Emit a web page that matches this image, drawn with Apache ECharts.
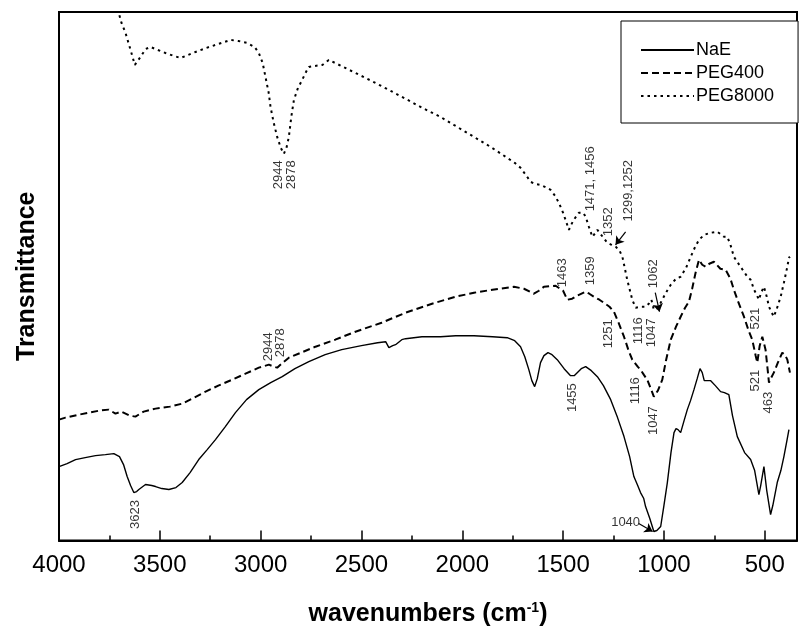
<!DOCTYPE html>
<html>
<head>
<meta charset="utf-8">
<script src="https://cdn.jsdelivr.net/npm/echarts@6/dist/echarts.min.js"></script>
<style>html,body{margin:0;padding:0;background:#fff}#c{width:804px;height:632px}</style>
</head>
<body>
<div id="c"></div>
<script>
var FONT = '"Liberation Sans", Arial, sans-serif';

var seriesNames = ['NaE', 'PEG400', 'PEG8000'];
var majorTicks = [500, 1000, 1500, 2000, 2500, 3000, 3500, 4000];
var minorTicks = [750, 1250, 1750, 2250, 2750, 3250, 3750];

var naeWn = [4000,3960,3918,3870,3819,3770,3728,3700,3680,3662,3645,3629,3615,3604,3571,3540,3521,3490,3455,3420,3389,3350,3307,3265,3224,3175,3125,3070,3009,2950,2893,2830,2761,2680,2598,2500,2420,2380,2364,2345,2331,2300,2281,2200,2108,2033,1942,1850,1777,1740,1711,1690,1670,1655,1641,1628,1612,1595,1575,1555,1529,1495,1463,1445,1430,1410,1388,1360,1330,1300,1264,1230,1198,1170,1149,1130,1116,1100,1091,1070,1050,1035,1016,1000,983,965,950,940,930,917,900,884,868,851,835,821,810,800,793,780,768,745,719,700,678,660,636,600,570,550,529,520,504,490,471,460,438,420,405,390,380];
var naeT = [74,77,81,83,85,86,87,84,76,64,55,48,49,51,56,55,54,52,51,53,58,68,81,91,101,114,128,141,151,158,164,172,179,186,191,195,198,199,193,195,196,201,202,204,204,205,205,204,203,200,194,184,171,160,154,162,178,185,188,186,181,172,165,165,168,172,174,170,164,155,141,123,104,84,64,55,48,42,34,22,9,10,14,35,58,88,108,112,111,108,120,131,140,151,162,172,168,160,158,160,160,155,149,148,146,125,104,88,81,70,46,55,74,50,26,35,58,70,84,100,111];

var peg400Wn = [4000,3968,3900,3852,3800,3753,3720,3690,3650,3621,3580,3521,3450,3389,3330,3273,3210,3141,3075,3009,2959,2935,2918,2890,2860,2800,2728,2630,2530,2400,2281,2150,2033,1942,1850,1744,1694,1645,1620,1595,1537,1500,1479,1455,1430,1388,1370,1347,1320,1298,1270,1248,1225,1198,1175,1157,1130,1116,1100,1083,1065,1050,1030,1008,990,966,940,917,895,876,860,843,826,810,793,775,752,720,694,670,653,630,603,580,562,545,537,525,512,496,485,479,470,455,435,413,400,388,375];
var peg400T = [121,123,126,128,130,131,127,129,125,124,129,132,134,137,143,149,155,161,167,173,176,174,173,178,183,188,194,201,209,218,228,237,244,248,251,254,252,247,250,254,255,250,241,242,245,249,247,244,241,238,234,229,218,204,190,181,174,171,166,161,152,144,150,161,180,201,214,224,233,239,252,268,281,276,274,277,279,272,271,262,251,238,224,210,201,185,178,195,204,191,170,158,162,168,178,188,186,181,168];

var peg8000Wn = [3712,3705,3690,3670,3645,3624,3610,3596,3570,3546,3510,3472,3430,3397,3360,3323,3270,3224,3180,3149,3110,3067,3030,3009,2990,2976,2960,2951,2935,2918,2900,2885,2872,2860,2848,2835,2815,2794,2775,2761,2730,2694,2662,2600,2530,2450,2364,2280,2198,2108,2042,1942,1860,1777,1740,1711,1685,1661,1640,1612,1580,1562,1540,1521,1500,1488,1478,1471,1460,1447,1422,1400,1388,1372,1355,1340,1330,1300,1281,1260,1239,1220,1206,1182,1157,1140,1132,1116,1091,1075,1062,1050,1035,1016,990,966,940,917,890,867,845,826,800,768,735,702,686,670,653,620,586,570,553,540,529,518,504,490,479,465,455,440,421,405,388,380,375];
var peg8000T = [545,529,518,508,491,476,480,484,492,494,491,488,485,483,486,489,493,496,499,501,500,498,494,488,478,464,448,434,418,404,393,387,393,404,424,441,453,461,469,474,475,476,481,475,468,460,451,442,433,424,416,404,394,383,378,373,366,359,357,356,353,351,345,338,328,321,315,311,316,321,328,328,324,314,304,308,311,303,298,296,294,290,284,261,241,233,231,234,234,237,241,231,232,238,248,256,262,264,273,284,294,301,306,308,309,304,304,296,284,274,264,261,251,246,241,248,254,244,234,228,224,232,244,258,274,283,284];

var annotText = ['3623','2944','2878','2944','2878','1455','1040','1463','1359','1251','1116','1047','1116','1047','1062','521','521','463','1471, 1456','1352','1299,1252'];
var annotWn   = [3621,2961,2901,2911,2847,1453,1190,1503,1364,1275,1140,1051,1126,1061,1051,545,545,481,1364,1275,1176];
var annotT    = [26,194,198,366,366,143,18,268,270,207,150,120,210,208,267,222,160,138,362,319,350];
var annotRot  = [90,90,90,90,90,90,0,90,90,90,90,90,90,90,90,90,90,90,90,90,90];

var arrowFromWn = [1125,1043,1190];
var arrowFromT  = [17,248,309];
var arrowToWn   = [1056,1022,1240];
var arrowToT    = [9,229,296];

function pairs(xs, ys){ return xs.map(function(x,i){ return [x, ys[i]]; }); }

var chart = echarts.init(document.getElementById('c'), null, {renderer:'canvas'});

var annotData = annotText.map(function(t,i){
  return {
    name: t,
    value: [annotWn[i], annotT[i]],
    label: { rotate: annotRot[i] }
  };
});

var arrows = arrowFromWn.map(function(x,i){
  return [{coord:[arrowFromWn[i], arrowFromT[i]], symbol:'none'},
          {coord:[arrowToWn[i], arrowToT[i]], symbol:'arrow'}];
});

var option = {
  animation: false,
  backgroundColor: '#fff',
  textStyle: { fontFamily: FONT },
  grid: { left: 59, right: 7, top: 12, bottom: 91, show: true, borderColor: '#000', borderWidth: 2, backgroundColor: 'transparent' },
  legend: {
    data: seriesNames,
    orient: 'vertical',
    left: 621, top: 21,
    padding: [20, 24, 18, 19],
    itemWidth: 53, itemHeight: 18, itemGap: 5,
    itemStyle: { opacity: 0, borderWidth: 0 },
    borderColor: '#000', borderWidth: 1, backgroundColor: '#fff',
    textStyle: { fontSize: 18, color: '#000', fontFamily: FONT, padding: [0,0,0,-3] },
    selectedMode: false
  },
  xAxis: [{
    type: 'value', inverse: true, min: 340, max: 4000,
    name: '{a|wavenumbers (cm}{s|-1}{a|)}',
    nameLocation: 'middle', nameGap: 61,
    nameTextStyle: {
      rich: {
        a: { fontSize: 25, fontWeight: 'bold', color: '#000', fontFamily: FONT },
        s: { fontSize: 14, fontWeight: 'bold', color: '#000', fontFamily: FONT, padding: [0,0,12,0] }
      }
    },
    axisLine: { show: true, onZero: false, lineStyle: { color: '#000', width: 2 } },
    axisTick: { show: true, inside: true, length: 10, lineStyle: { color: '#000', width: 1.5 }, customValues: majorTicks },
    axisLabel: { show: true, customValues: majorTicks, fontSize: 24, color: '#000', margin: 13, fontFamily: FONT,
      formatter: function(v){ return String(v); } },
    splitLine: { show: false }
  }, {
    type: 'value', inverse: true, min: 340, max: 4000, position: 'bottom',
    axisLine: { show: false },
    axisTick: { show: true, inside: true, length: 5, lineStyle: { color: '#000', width: 1.5 }, customValues: minorTicks },
    axisLabel: { show: false },
    splitLine: { show: false }
  }],
  yAxis: {
    type: 'value', min: 0, max: 529,
    name: 'Transmittance', nameLocation: 'middle', nameGap: 19,
    nameTextStyle: { fontSize: 25, fontWeight: 'bold', color: '#000', fontFamily: FONT },
    axisLine: { show: true, onZero: false, lineStyle: { color: '#000', width: 2 } },
    axisTick: { show: false },
    axisLabel: { show: false },
    splitLine: { show: false }
  },
  series: [
    { name: 'NaE', type: 'line', symbol: 'none', data: pairs(naeWn, naeT),
      lineStyle: { color: '#000', width: 1.4, type: 'solid' }, itemStyle: { color: '#000' } },
    { name: 'PEG400', type: 'line', symbol: 'none', data: pairs(peg400Wn, peg400T),
      lineStyle: { color: '#000', width: 2, type: [7, 4] }, itemStyle: { color: '#000' } },
    { name: 'PEG8000', type: 'line', symbol: 'none', data: pairs(peg8000Wn, peg8000T),
      lineStyle: { color: '#000', width: 2, type: [2.5, 4] }, itemStyle: { color: '#000' } },
    { name: 'annotations', type: 'scatter', symbolSize: 0, data: annotData,
      silent: true,
      label: { show: true, position: 'inside', formatter: '{b}', fontSize: 13, color: '#000', fontFamily: FONT },
      markLine: {
        silent: true, symbolSize: 8, precision: 3,
        label: { show: false },
        lineStyle: { color: '#000', width: 1.2, type: 'solid' },
        data: arrows
      }
    }
  ]
};
chart.setOption(option);
</script>
</body>
</html>
